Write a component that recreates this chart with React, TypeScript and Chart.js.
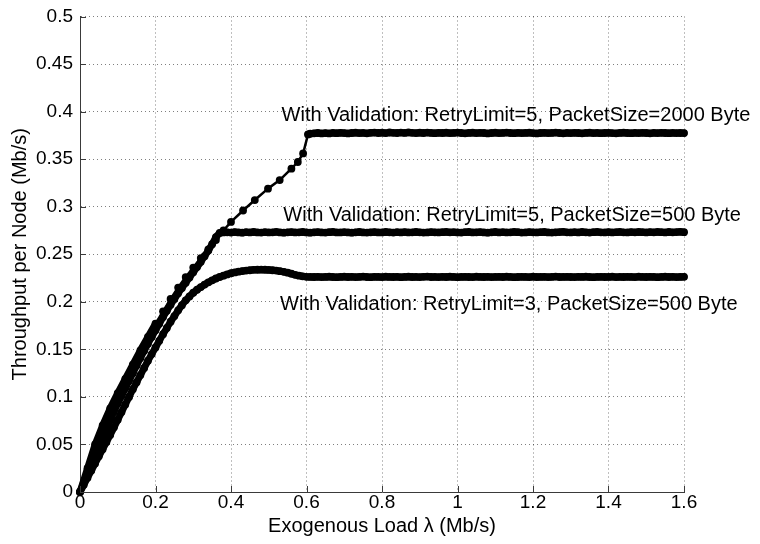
import React, { useEffect, useRef } from 'react';
import { Chart, registerables } from 'chart.js';

Chart.register(...registerables);

const FONT = '"Liberation Sans", Arial, Helvetica, sans-serif';
const AXIS_COLOR = '#3a3a3a';
const GRID_COLOR = 'rgba(0,0,0,0.5)';

const xTickValues = [0, 0.2, 0.4, 0.6, 0.8, 1, 1.2, 1.4, 1.6];
const xTickLabels = ['0', '0.2', '0.4', '0.6', '0.8', '1', '1.2', '1.4', '1.6'];
const yTickValues = [0, 0.05, 0.1, 0.15, 0.2, 0.25, 0.3, 0.35, 0.4, 0.45, 0.5];
const yTickLabels = ['0', '0.05', '0.1', '0.15', '0.2', '0.25', '0.3', '0.35', '0.4', '0.45', '0.5'];

const xTitle = 'Exogenous Load λ (Mb/s)';
const yTitle = 'Throughput per Node (Mb/s)';

// Shared load grid (used by the two 500-Byte series)
const loadGrid = [
  0, 0.01, 0.02, 0.03, 0.04, 0.05, 0.06, 0.07, 0.08, 0.09,
  0.1, 0.11, 0.12, 0.13, 0.14, 0.15, 0.16, 0.17, 0.18, 0.19,
  0.2, 0.21, 0.22, 0.23, 0.24, 0.25, 0.26, 0.27, 0.28, 0.29,
  0.3, 0.31, 0.32, 0.33, 0.34, 0.35, 0.36, 0.37, 0.38, 0.39,
  0.4, 0.41, 0.42, 0.43, 0.44, 0.45, 0.46, 0.47, 0.48, 0.49,
  0.5, 0.51, 0.52, 0.53, 0.54, 0.55, 0.56, 0.57, 0.58, 0.59,
  0.6, 0.61, 0.62, 0.63, 0.64, 0.65, 0.66, 0.67, 0.68, 0.69,
  0.7, 0.71, 0.72, 0.73, 0.74, 0.75, 0.76, 0.77, 0.78, 0.79,
  0.8, 0.81, 0.82, 0.83, 0.84, 0.85, 0.86, 0.87, 0.88, 0.89,
  0.9, 0.91, 0.92, 0.93, 0.94, 0.95, 0.96, 0.97, 0.98, 0.99,
  1, 1.01, 1.02, 1.03, 1.04, 1.05, 1.06, 1.07, 1.08, 1.09,
  1.1, 1.11, 1.12, 1.13, 1.14, 1.15, 1.16, 1.17, 1.18, 1.19,
  1.2, 1.21, 1.22, 1.23, 1.24, 1.25, 1.26, 1.27, 1.28, 1.29,
  1.3, 1.31, 1.32, 1.33, 1.34, 1.35, 1.36, 1.37, 1.38, 1.39,
  1.4, 1.41, 1.42, 1.43, 1.44, 1.45, 1.46, 1.47, 1.48, 1.49,
  1.5, 1.51, 1.52, 1.53, 1.54, 1.55, 1.56, 1.57, 1.58, 1.59,
  1.6,
];

// RetryLimit=5, PacketSize=2000 Byte (own load samples)
const loadA = [
  0, 0.02, 0.04, 0.06, 0.08, 0.1, 0.12, 0.14, 0.16, 0.18,
  0.2, 0.22, 0.24, 0.26, 0.28, 0.3, 0.32, 0.34, 0.36, 0.38,
  0.4, 0.432, 0.463, 0.498, 0.529, 0.56, 0.577, 0.591, 0.604,
  0.61, 0.62, 0.63, 0.64, 0.65, 0.66, 0.67, 0.68, 0.69,
  0.7, 0.71, 0.72, 0.73, 0.74, 0.75, 0.76, 0.77, 0.78, 0.79,
  0.8, 0.81, 0.82, 0.83, 0.84, 0.85, 0.86, 0.87, 0.88, 0.89,
  0.9, 0.91, 0.92, 0.93, 0.94, 0.95, 0.96, 0.97, 0.98, 0.99,
  1, 1.01, 1.02, 1.03, 1.04, 1.05, 1.06, 1.07, 1.08, 1.09,
  1.1, 1.11, 1.12, 1.13, 1.14, 1.15, 1.16, 1.17, 1.18, 1.19,
  1.2, 1.21, 1.22, 1.23, 1.24, 1.25, 1.26, 1.27, 1.28, 1.29,
  1.3, 1.31, 1.32, 1.33, 1.34, 1.35, 1.36, 1.37, 1.38, 1.39,
  1.4, 1.41, 1.42, 1.43, 1.44, 1.45, 1.46, 1.47, 1.48, 1.49,
  1.5, 1.51, 1.52, 1.53, 1.54, 1.55, 1.56, 1.57, 1.58, 1.59,
  1.6,
];
const throughputA = [
  0, 0.025, 0.05, 0.07, 0.088, 0.104, 0.119, 0.134, 0.149, 0.163,
  0.177, 0.19, 0.203, 0.215, 0.226, 0.236, 0.246, 0.255, 0.265, 0.275,
  0.284, 0.296, 0.307, 0.319, 0.328, 0.34, 0.347, 0.356, 0.376,
  0.3768, 0.3772, 0.3775, 0.377, 0.3774, 0.3771, 0.3776, 0.3773, 0.3777,
  0.3774, 0.3771, 0.3775, 0.3778, 0.3774, 0.3776, 0.3772, 0.3777, 0.3779, 0.3775,
  0.3778, 0.3774, 0.378, 0.3777, 0.3775, 0.3779, 0.3776, 0.3781, 0.3777, 0.3774,
  0.3778, 0.3775, 0.3779, 0.3776, 0.3773, 0.3777, 0.3775, 0.3778, 0.3774, 0.3776,
  0.3779, 0.3775, 0.3772, 0.3776, 0.3778, 0.3774, 0.3777, 0.3775, 0.3771, 0.3775,
  0.3778, 0.3774, 0.3776, 0.3779, 0.3775, 0.3773, 0.3777, 0.3774, 0.3776, 0.3778,
  0.3774, 0.3771, 0.3775, 0.3777, 0.3774, 0.3776, 0.3779, 0.3775, 0.3772, 0.3776,
  0.3774, 0.3777, 0.3775, 0.3772, 0.3776, 0.3778, 0.3774, 0.3776, 0.3773, 0.3775,
  0.3777, 0.3774, 0.3772, 0.3776, 0.3778, 0.3775, 0.3773, 0.3776, 0.3774, 0.3777,
  0.3775, 0.3772, 0.3776, 0.3774, 0.3777, 0.3775, 0.3773, 0.3776, 0.3774, 0.3775,
  0.3774,
];

// RetryLimit=5, PacketSize=500 Byte
const throughputB = [
  0, 0.01, 0.02, 0.03, 0.04, 0.049, 0.058, 0.067, 0.076, 0.0845,
  0.093, 0.101, 0.109, 0.117, 0.125, 0.133, 0.141, 0.1485, 0.156, 0.163,
  0.17, 0.177, 0.184, 0.1905, 0.197, 0.203, 0.209, 0.2145, 0.22, 0.2255,
  0.231, 0.2365, 0.242, 0.248, 0.254, 0.2605, 0.268, 0.2724, 0.273, 0.2731,
  0.2728, 0.2733, 0.273, 0.2727, 0.2732, 0.2729, 0.2734, 0.273, 0.2728, 0.2732,
  0.2729, 0.2731, 0.2735, 0.273, 0.2727, 0.2731, 0.2733, 0.2729, 0.2731, 0.2734,
  0.2729, 0.2727, 0.2731, 0.2733, 0.273, 0.2728, 0.2732, 0.2735, 0.273, 0.2729,
  0.2732, 0.273, 0.2727, 0.2731, 0.2734, 0.273, 0.2728, 0.2731, 0.2733, 0.2729,
  0.273, 0.2734, 0.2731, 0.2728, 0.2732, 0.273, 0.2733, 0.2729, 0.2731, 0.2734,
  0.2731, 0.2728, 0.273, 0.2733, 0.2731, 0.2729, 0.2732, 0.2735, 0.2731, 0.2732,
  0.273, 0.2728, 0.2732, 0.2734, 0.2729, 0.2731, 0.2733, 0.273, 0.2727, 0.2731,
  0.2734, 0.273, 0.2732, 0.2729, 0.2731, 0.2735, 0.2732, 0.2728, 0.273, 0.2733,
  0.2731, 0.2729, 0.2732, 0.2734, 0.273, 0.2728, 0.2731, 0.2733, 0.2736, 0.2731,
  0.2729, 0.2732, 0.273, 0.2734, 0.2731, 0.2728, 0.2732, 0.2735, 0.2731, 0.2729,
  0.2733, 0.273, 0.2732, 0.2735, 0.2731, 0.2729, 0.2733, 0.2731, 0.2734, 0.2732,
  0.273, 0.2733, 0.2731, 0.2735, 0.2732, 0.2729, 0.2734, 0.2731, 0.2733, 0.2736,
  0.2732,
];

// RetryLimit=3, PacketSize=500 Byte
const throughputC = [
  0, 0.0075, 0.015, 0.0225, 0.03, 0.0375, 0.045, 0.0525, 0.06, 0.068,
  0.076, 0.084, 0.092, 0.1, 0.108, 0.1155, 0.123, 0.1305, 0.138, 0.145,
  0.152, 0.159, 0.166, 0.1725, 0.179, 0.185, 0.191, 0.1965, 0.2015, 0.2057,
  0.2095, 0.2127, 0.2155, 0.2181, 0.2205, 0.2226, 0.2245, 0.2261, 0.2275, 0.2288,
  0.23, 0.2309, 0.2317, 0.2323, 0.2328, 0.2332, 0.2336, 0.2337, 0.2338, 0.2337,
  0.2335, 0.2332, 0.2328, 0.2322, 0.2315, 0.2306, 0.2295, 0.2284, 0.2275, 0.2268,
  0.2263, 0.2262, 0.2261, 0.2263, 0.226, 0.2262, 0.2264, 0.2261, 0.2259, 0.2262,
  0.2264, 0.2261, 0.2263, 0.226, 0.2262, 0.2265, 0.2261, 0.2259, 0.2263, 0.2262,
  0.226, 0.2264, 0.2262, 0.2261, 0.2263, 0.2259, 0.2262, 0.2264, 0.2261, 0.2262,
  0.226, 0.2263, 0.2265, 0.2261, 0.2262, 0.226, 0.2263, 0.2261, 0.2264, 0.2262,
  0.2259, 0.2262, 0.2263, 0.2261, 0.226, 0.2264, 0.2262, 0.2261, 0.2263, 0.226,
  0.2262, 0.2263, 0.2261, 0.2264, 0.2262, 0.2259, 0.2261, 0.2263, 0.2262, 0.226,
  0.2264, 0.2261, 0.2262, 0.2263, 0.226, 0.2262, 0.2265, 0.2261, 0.2262, 0.2263,
  0.2261, 0.226, 0.2263, 0.2262, 0.2264, 0.2261, 0.2259, 0.2262, 0.2263, 0.2261,
  0.2262, 0.2264, 0.226, 0.2262, 0.2261, 0.2263, 0.2262, 0.226, 0.2264, 0.2262,
  0.2261, 0.2263, 0.2262, 0.2259, 0.2262, 0.2264, 0.2261, 0.2263, 0.226, 0.2262,
  0.2263,
];

const seriesNames = [
  'With Validation: RetryLimit=5, PacketSize=2000 Byte',
  'With Validation: RetryLimit=5, PacketSize=500 Byte',
  'With Validation: RetryLimit=3, PacketSize=500 Byte',
];

// Text annotations (data coordinates, left/middle anchored)
const annotationTexts = seriesNames;
const annotationX = [0.534, 0.5386, 0.5298];
const annotationY = [0.3954, 0.2904, 0.1975];

function toPoints(xs: number[], ys: number[]) {
  return xs.map((x, i) => ({ x, y: ys[i] }));
}

export default function App() {
  const ref = useRef<HTMLCanvasElement>(null);

  useEffect(() => {
    const canvas = ref.current;
    if (!canvas) return;

    const overlayPlugin = {
      id: 'matlabOverlay',
      afterDatasetsDraw(chart: any) {
        const { ctx, chartArea, scales } = chart;
        const xs = scales.x;
        const ys = scales.y;
        ctx.save();
        // inward tick marks
        ctx.strokeStyle = AXIS_COLOR;
        ctx.lineWidth = 1;
        ctx.beginPath();
        xTickValues.forEach((v) => {
          const px = Math.round(xs.getPixelForValue(v)) + 0.5;
          ctx.moveTo(px, chartArea.bottom);
          ctx.lineTo(px, chartArea.bottom - 6);
        });
        yTickValues.forEach((v) => {
          const py = Math.round(ys.getPixelForValue(v)) + 0.5;
          ctx.moveTo(chartArea.left, py);
          ctx.lineTo(chartArea.left + 6, py);
        });
        ctx.stroke();
        // annotations
        ctx.font = `20px ${FONT}`;
        ctx.fillStyle = '#000';
        ctx.textAlign = 'left';
        ctx.textBaseline = 'middle';
        annotationTexts.forEach((t, i) => {
          ctx.fillText(t, xs.getPixelForValue(annotationX[i]), ys.getPixelForValue(annotationY[i]));
        });
        ctx.restore();
      },
    };

    const ds = (label: string, xs: number[], ys: number[], width: (x0: number, x1: number) => number) => ({
      label,
      data: toPoints(xs, ys),
      showLine: true,
      borderColor: '#000',
      backgroundColor: '#000',
      borderWidth: 2.5,
      borderJoinStyle: 'round',
      borderCapStyle: 'round',
      segment: {
        borderWidth: (c: any) => width(c.p0.parsed.x, c.p1.parsed.x),
      },
      pointRadius: 3.9,
      pointHoverRadius: 3.9,
      pointBackgroundColor: '#000',
      pointBorderWidth: 0,
      tension: 0,
      clip: false as any,
    });

    const denseWidth = () => 7;
    const widthA = (x0: number, x1: number) => (x1 <= 0.2 || x0 >= 0.604 ? 7 : 2.5);

    const gridColor = (c: any) => (c.tick && c.tick.value === 0 ? 'rgba(0,0,0,0)' : GRID_COLOR);

    const chart = new Chart(canvas, {
      type: 'scatter',
      data: {
        datasets: [
          ds(seriesNames[0], loadA, throughputA, widthA),
          ds(seriesNames[1], loadGrid, throughputB, denseWidth),
          ds(seriesNames[2], loadGrid, throughputC, denseWidth),
        ],
      },
      options: {
        responsive: false,
        devicePixelRatio: 1,
        animation: false,
        events: [],
        layout: { padding: { top: 16, right: 76, bottom: 0, left: 0 } },
        plugins: {
          legend: { display: false },
          tooltip: { enabled: false },
        },
        scales: {
          x: {
            type: 'linear',
            position: 'bottom',
            min: 0,
            max: 1.6,
            afterFit: (s: any) => {
              s.height = 52;
            },
            afterBuildTicks: (s: any) => {
              s.ticks = xTickValues.map((v) => ({ value: v }));
            },
            ticks: {
              callback: (_v: any, i: number) => xTickLabels[i],
              font: { family: FONT, size: 19, lineHeight: 1 },
              color: '#000',
              padding: 1,
              maxRotation: 0,
              autoSkip: false,
            },
            grid: { color: gridColor, lineWidth: 1, drawTicks: false },
            border: { display: true, color: AXIS_COLOR, width: 1, dash: [1, 3] },
            title: {
              display: true,
              text: xTitle,
              color: '#000',
              font: { family: FONT, size: 20, lineHeight: 1.2 },
              padding: { top: 0, bottom: 5.5 },
            },
          },
          y: {
            type: 'linear',
            position: 'left',
            min: 0,
            max: 0.5,
            afterFit: (s: any) => {
              s.width = 80;
            },
            afterBuildTicks: (s: any) => {
              s.ticks = yTickValues.map((v) => ({ value: v }));
            },
            ticks: {
              callback: (_v: any, i: number) => yTickLabels[i],
              font: { family: FONT, size: 19, lineHeight: 1 },
              color: '#000',
              padding: 7,
              autoSkip: false,
            },
            grid: { color: gridColor, lineWidth: 1, drawTicks: false },
            border: { display: true, color: AXIS_COLOR, width: 1, dash: [1, 3] },
            title: {
              display: true,
              text: yTitle,
              color: '#000',
              font: { family: FONT, size: 20, lineHeight: 1.2 },
              padding: { top: 8, bottom: 0 },
            },
          },
        },
      } as any,
      plugins: [overlayPlugin],
    });

    return () => chart.destroy();
  }, []);

  return (
    <div style={{ position: 'absolute', left: 0, top: 0, width: 760, height: 544, background: '#fff' }}>
      <canvas ref={ref} width={760} height={544} style={{ display: 'block', width: 760, height: 544 }} />
    </div>
  );
}
